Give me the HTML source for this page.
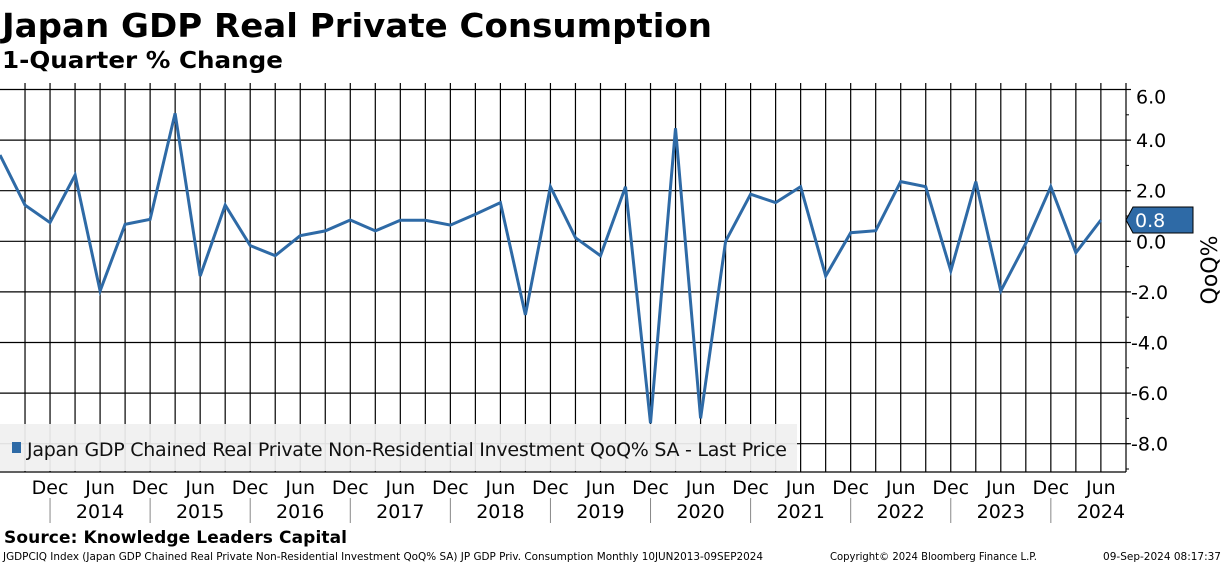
<!DOCTYPE html>
<html><head><meta charset="utf-8">
<style>
body{margin:0;background:#fff;width:1224px;height:565px;overflow:hidden;font-family:"Liberation Sans","DejaVu Sans",sans-serif;}
svg{display:block}
</style></head>
<body>
<svg id="chart" width="1224" height="565" xmlns="http://www.w3.org/2000/svg">
<text x="2" y="37" font-size="33" font-weight="bold" font-family="DejaVu Sans, sans-serif" textLength="710" lengthAdjust="spacingAndGlyphs">Japan GDP Real Private Consumption</text>
<text x="2" y="68" font-size="23" font-weight="bold" font-family="DejaVu Sans, sans-serif" textLength="281" lengthAdjust="spacingAndGlyphs">1-Quarter % Change</text>
<g id="grid"></g>
<g id="axes"></g>
<g id="series"></g>
<rect x="0" y="424" width="797" height="47" fill="#f0f0f0" opacity="0.93"/>
<rect x="12" y="442" width="9" height="11" fill="#2e6aa6"/>
<text x="27" y="456" font-size="19" fill="#111" font-family="DejaVu Sans, sans-serif" textLength="760">Japan GDP Chained Real Private Non-Residential Investment QoQ% SA - Last Price</text>
<text x="1209" y="278" font-size="22" text-anchor="middle" transform="rotate(-90 1209 270)" font-family="DejaVu Sans, sans-serif">QoQ%</text>
<text x="4" y="543" font-size="17" font-weight="bold" font-family="DejaVu Sans, sans-serif" textLength="343">Source: Knowledge Leaders Capital</text>
<text x="3" y="560" font-size="10.5" font-family="DejaVu Sans, sans-serif" textLength="760" lengthAdjust="spacingAndGlyphs">JGDPCIQ Index (Japan GDP Chained Real Private Non-Residential Investment QoQ% SA) JP GDP Priv. Consumption  Monthly 10JUN2013-09SEP2024</text>
<text x="830" y="560" font-size="10.5" font-family="DejaVu Sans, sans-serif" textLength="207" lengthAdjust="spacingAndGlyphs">Copyright© 2024 Bloomberg Finance L.P.</text>
<text x="1221" y="560" font-size="10.5" text-anchor="end" font-family="DejaVu Sans, sans-serif">09-Sep-2024 08:17:37</text>
</svg>
<script>
const values = [3.41,1.43,0.74,2.62,-1.96,0.67,0.87,5.06,-1.37,1.43,-0.17,-0.57,0.22,0.41,0.84,0.41,0.83,0.83,0.64,1.07,1.53,-2.91,2.16,0.14,-0.57,2.16,-7.19,4.47,-7.0,0.0,1.86,1.53,2.16,-1.37,0.34,0.42,2.36,2.16,-1.17,2.36,-1.96,-0.08,2.16,-0.45,0.84];
const yTicks = [6,4,2,0,-2,-4,-6,-8];
const yearLabels = ["2014","2015","2016","2017","2018","2019","2020","2021","2022","2023","2024"];
const monthLabels = ["Dec","Jun"];
const lastLabel = "0.8";

const NS="http://www.w3.org/2000/svg";
const X0=0, DX=25.02, Y0=241.3, DY=25.3, TOP=83, BOT=472, RIGHT=1126;
const xs=i=>X0+i*DX;
const ys=v=>Y0-v*DY;
function mk(tag,attrs,parent){const e=document.createElementNS(NS,tag);for(const k in attrs)e.setAttribute(k,attrs[k]);parent.appendChild(e);return e;}
const grid=document.getElementById('grid'), axes=document.getElementById('axes'), series=document.getElementById('series');
for(let i=1;i<values.length;i++){
  const l=mk('line',{x1:xs(i),x2:xs(i),y1:TOP,y2:BOT,stroke:'#000','stroke-width':1.2},grid);
  
  
}
const maxTick=Math.max(...yTicks);
for(const t of yTicks){
  const l=mk('line',{x1:0,x2:RIGHT,y1:ys(t),y2:ys(t),stroke:'#000','stroke-width':1.2},grid);
  
  
  const tk=mk('line',{x1:RIGHT,x2:RIGHT+5,y1:ys(t),y2:ys(t),stroke:'#000','stroke-width':1.2},axes);
  
  
  const tx=mk('text',{x:t<0?1131:1136,y:ys(t)+(t===maxTick?14:7),'font-size':19,'font-family':'DejaVu Sans, sans-serif'},axes);
  tx.textContent=t.toFixed(1);
  
  
}
for(let v=-9;v<=6;v++){
  const tk=mk('line',{x1:RIGHT,x2:RIGHT+3,y1:ys(v),y2:ys(v),stroke:'#000','stroke-width':1},axes);
  
  
}
const ax=mk('line',{x1:RIGHT,x2:RIGHT,y1:TOP,y2:BOT,stroke:'#000','stroke-width':1.2},axes);


const bx=mk('line',{x1:0,x2:RIGHT,y1:BOT,y2:BOT,stroke:'#000','stroke-width':1.2},axes);


for(let i=2,k=0;i<values.length;i+=2,k++){
  const t=mk('text',{x:xs(i),y:494,'font-size':19,'text-anchor':'middle','font-family':'DejaVu Sans, sans-serif'},axes);
  t.textContent=monthLabels[k%2];
  
  
}
for(let y=0;y<yearLabels.length;y++){
  const xc=xs(4+4*y);
  const t=mk('text',{x:xc,y:518,'font-size':19,'text-anchor':'middle','font-family':'DejaVu Sans, sans-serif'},axes);
  t.textContent=yearLabels[y];
  
  
  const s=mk('line',{x1:xs(2+4*y),x2:xs(2+4*y),y1:498,y2:523,stroke:'#888','stroke-width':1},axes);
  
  
}
const pts=values.map((v,i)=>xs(i).toFixed(1)+','+ys(v).toFixed(1)).join(' ');
const pl=mk('polyline',{points:pts,fill:'none',stroke:'#2e6aa6','stroke-width':3,'stroke-linejoin':'miter'},series);


const lv=values[values.length-1], ly=ys(lv);
const tag=mk('polygon',{points:`${RIGHT},${ly} ${RIGHT+7},${ly-13} ${RIGHT+67},${ly-13} ${RIGHT+67},${ly+13} ${RIGHT+7},${ly+13}`,fill:'#2e6aa6',stroke:'#000','stroke-width':1},axes);


const tt=mk('text',{x:RIGHT+9,y:ly+7,'font-size':19,fill:'#fff','font-family':'DejaVu Sans, sans-serif'},axes);
tt.textContent=lastLabel;


</script>
</body></html>
